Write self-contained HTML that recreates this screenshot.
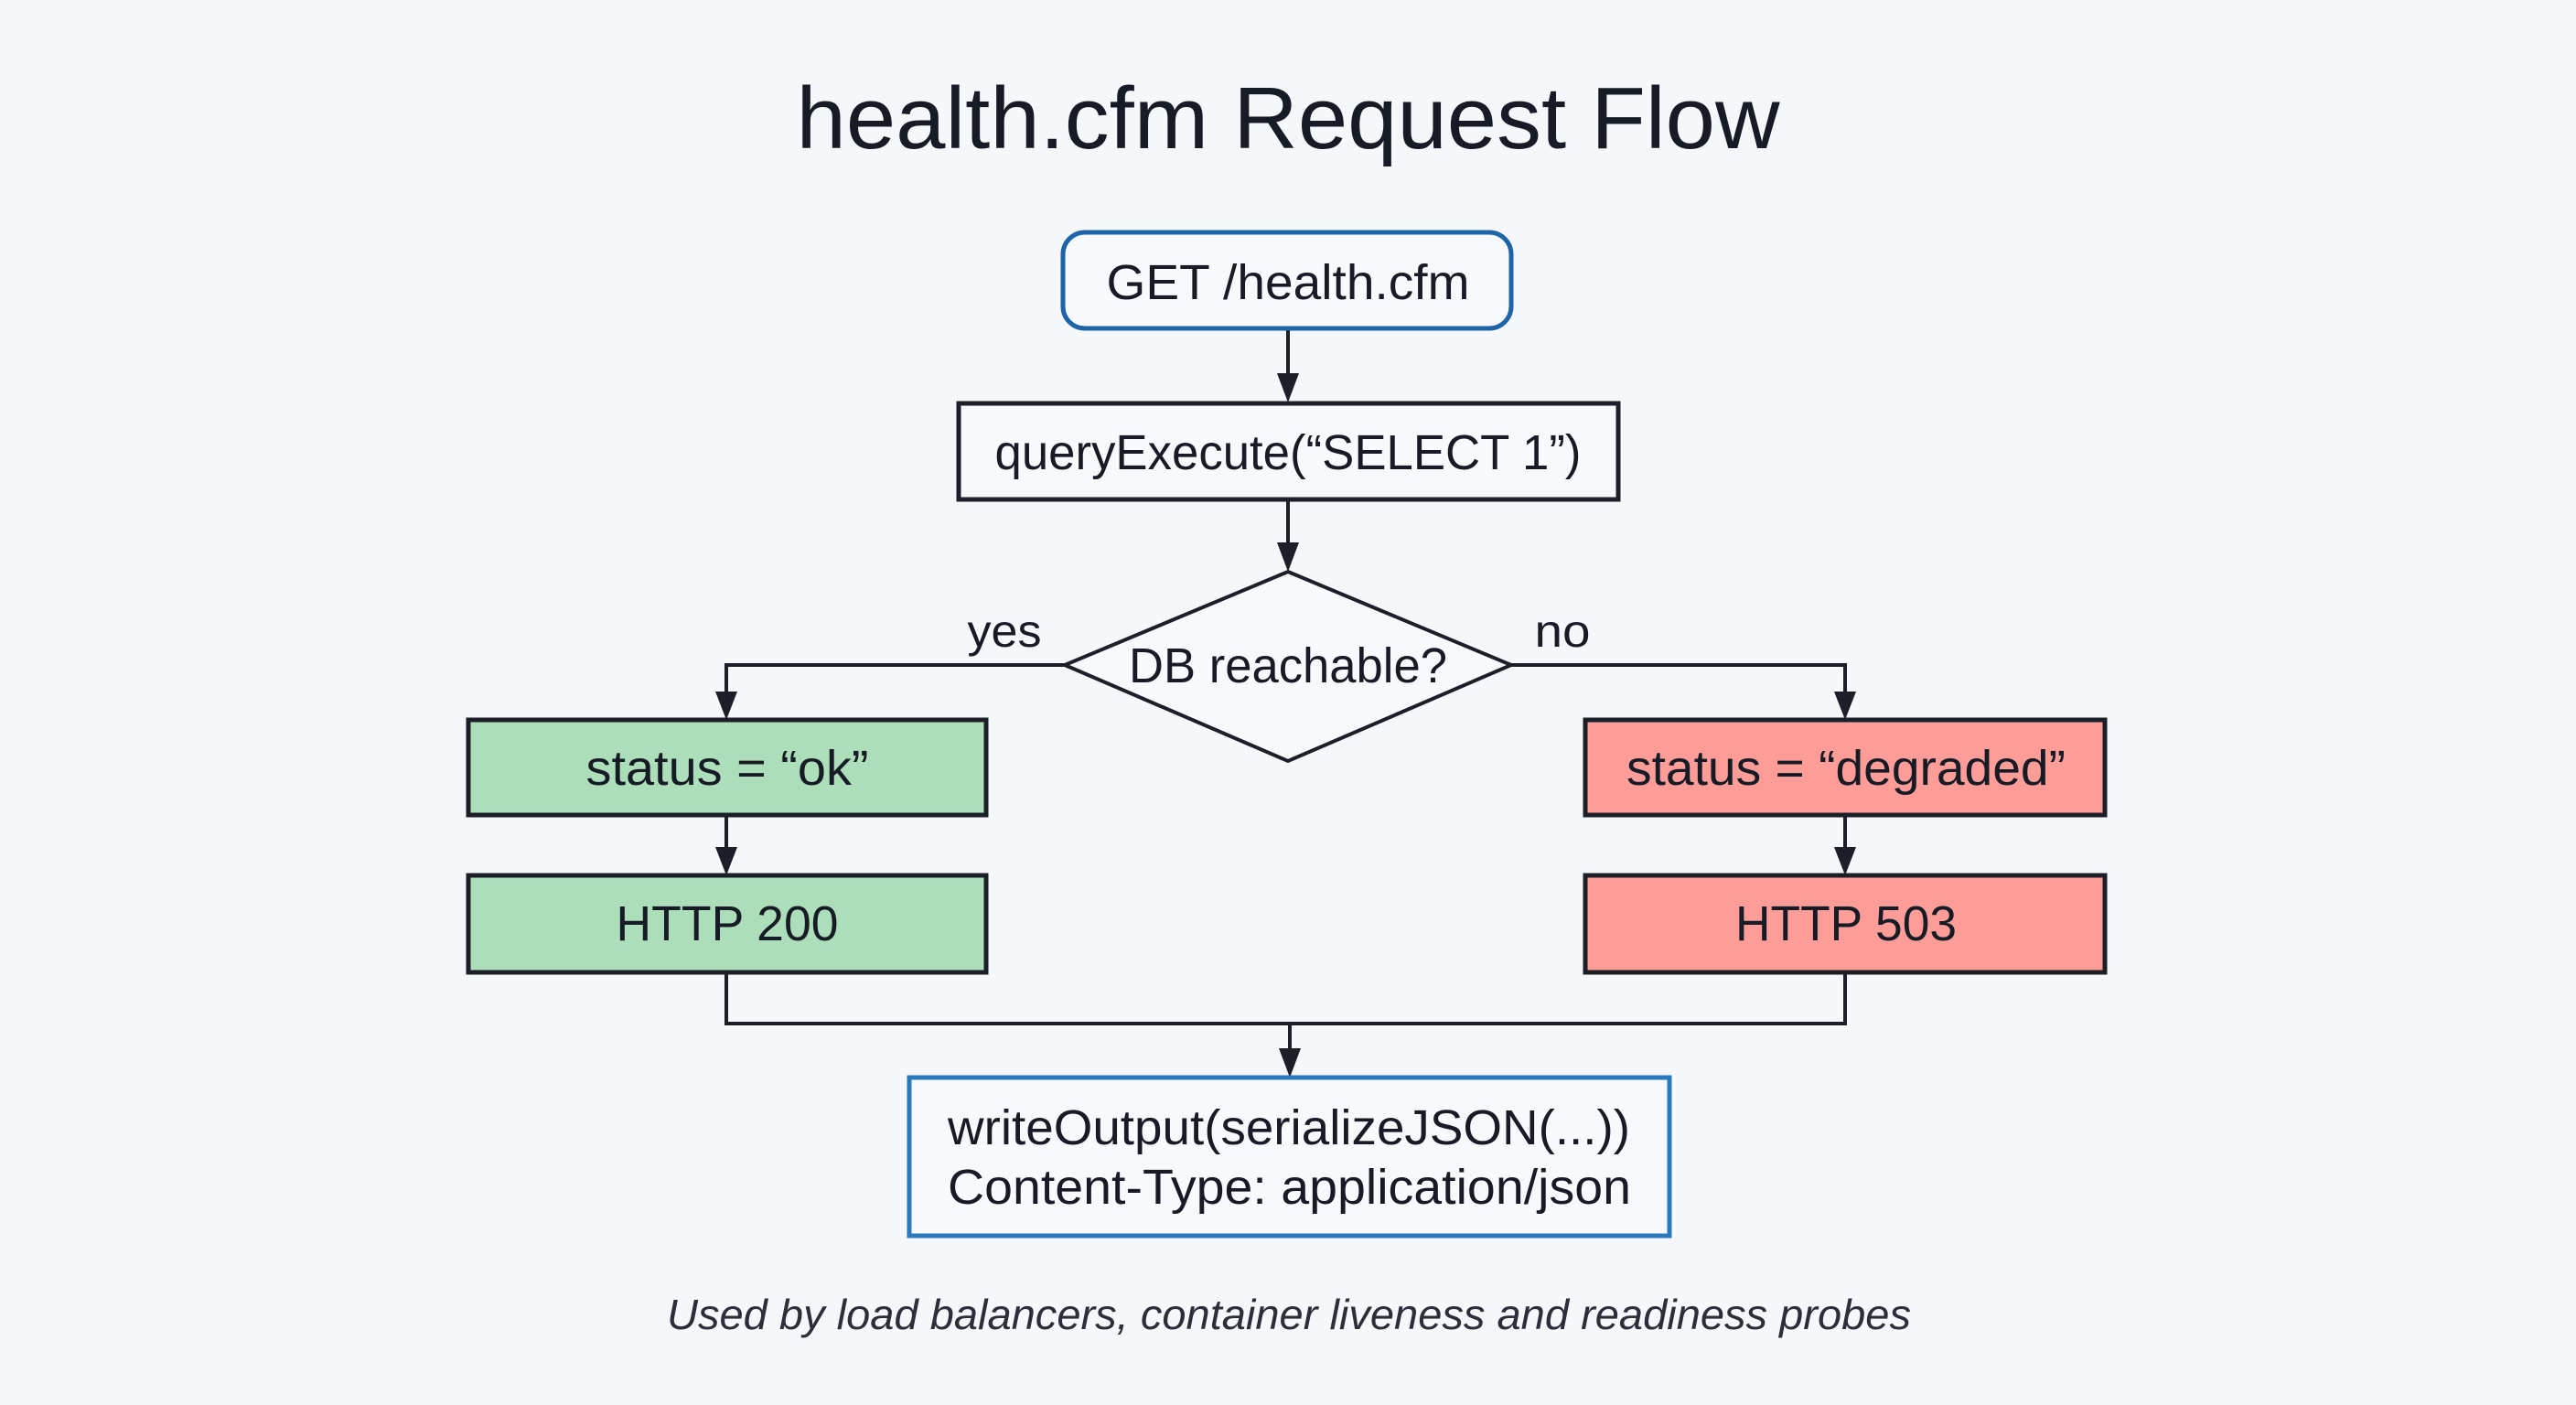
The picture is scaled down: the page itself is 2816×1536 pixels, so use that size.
<!DOCTYPE html>
<html><head><meta charset="utf-8"><style>
html,body{margin:0;padding:0;background:#f5f7fa;}
svg{display:block;}
text{font-family:"Liberation Sans",Arial,sans-serif;fill:#161b26;}
</style></head><body>
<svg width="2816" height="1536" viewBox="0 0 2816 1536" xmlns="http://www.w3.org/2000/svg">
<defs>
<marker id="ah" markerWidth="10" markerHeight="10" refX="9" refY="5" orient="auto" markerUnits="userSpaceOnUse" viewBox="0 0 10 10">
</marker>
</defs>
<rect width="2816" height="1536" fill="#f5f7fa"/>
<text x="1408" y="162" font-size="96" text-anchor="middle" textLength="1075" lengthAdjust="spacingAndGlyphs">health.cfm Request Flow</text>

<g stroke="#1c1f27" stroke-width="4" fill="none">
<line x1="1408" y1="359" x2="1408" y2="412"/>
<line x1="1408" y1="546" x2="1408" y2="597"/>
<polyline points="1164,727 794,727 794,760"/>
<polyline points="1652,727 2017,727 2017,760"/>
<line x1="794" y1="891" x2="794" y2="930"/>
<line x1="2017" y1="891" x2="2017" y2="930"/>
<polyline points="794,1063 794,1119 2017,1119 2017,1063"/>
<line x1="1410" y1="1119" x2="1410" y2="1150"/>
</g>
<g fill="#1c1f27">
<polygon points="1396,408 1420,408 1408,440"/>
<polygon points="1396,593 1420,593 1408,625"/>
<polygon points="782,756 806,756 794,787"/>
<polygon points="2005,756 2029,756 2017,787"/>
<polygon points="782,926 806,926 794,957"/>
<polygon points="2005,926 2029,926 2017,957"/>
<polygon points="1398,1146 1422,1146 1410,1178"/>
</g>

<rect x="1162" y="254" width="490" height="105" rx="24" fill="#f7f9fc" stroke="#1d64a8" stroke-width="5"/>
<text x="1408" y="327" font-size="54" text-anchor="middle" textLength="397" lengthAdjust="spacingAndGlyphs">GET /health.cfm</text>

<rect x="1048" y="441" width="721" height="105" fill="#f7f9fc" stroke="#1c1f27" stroke-width="5"/>
<text x="1408" y="513" font-size="54" text-anchor="middle" textLength="641" lengthAdjust="spacingAndGlyphs">queryExecute(“SELECT 1”)</text>

<polygon points="1408,625 1652,727 1408,832 1164,727" fill="#f7f9fc" stroke="#1c1f27" stroke-width="4"/>
<text x="1408" y="746" font-size="54" text-anchor="middle" textLength="348" lengthAdjust="spacingAndGlyphs">DB reachable?</text>
<text x="1098" y="707" font-size="50" text-anchor="middle" textLength="81" lengthAdjust="spacingAndGlyphs">yes</text>
<text x="1708" y="707" font-size="50" text-anchor="middle" textLength="61" lengthAdjust="spacingAndGlyphs">no</text>

<rect x="512" y="787" width="566" height="104" fill="#acdfb9" stroke="#1c1f27" stroke-width="5"/>
<text x="795" y="858" font-size="54" text-anchor="middle" textLength="309" lengthAdjust="spacingAndGlyphs">status = “ok”</text>
<rect x="512" y="957" width="566" height="106" fill="#acdfb9" stroke="#1c1f27" stroke-width="5"/>
<text x="795" y="1028" font-size="54" text-anchor="middle" textLength="243" lengthAdjust="spacingAndGlyphs">HTTP 200</text>

<rect x="1733" y="787" width="568" height="104" fill="#fe9c98" stroke="#1c1f27" stroke-width="5"/>
<text x="2018" y="858" font-size="54" text-anchor="middle" textLength="480" lengthAdjust="spacingAndGlyphs">status = “degraded”</text>
<rect x="1733" y="957" width="568" height="106" fill="#fe9c98" stroke="#1c1f27" stroke-width="5"/>
<text x="2018" y="1028" font-size="54" text-anchor="middle" textLength="242" lengthAdjust="spacingAndGlyphs">HTTP 503</text>

<rect x="994" y="1178" width="831" height="173" fill="#f7f9fc" stroke="#2a79bd" stroke-width="5"/>
<text x="1036" y="1251" font-size="54" textLength="746" lengthAdjust="spacingAndGlyphs">writeOutput(serializeJSON(...))</text>
<text x="1036" y="1316" font-size="54" textLength="747" lengthAdjust="spacingAndGlyphs">Content-Type: application/json</text>

<text x="1409" y="1453" font-size="46" font-style="italic" text-anchor="middle" textLength="1360" lengthAdjust="spacingAndGlyphs" style="fill:#2a2f3a">Used by load balancers, container liveness and readiness probes</text>
</svg>
</body></html>
